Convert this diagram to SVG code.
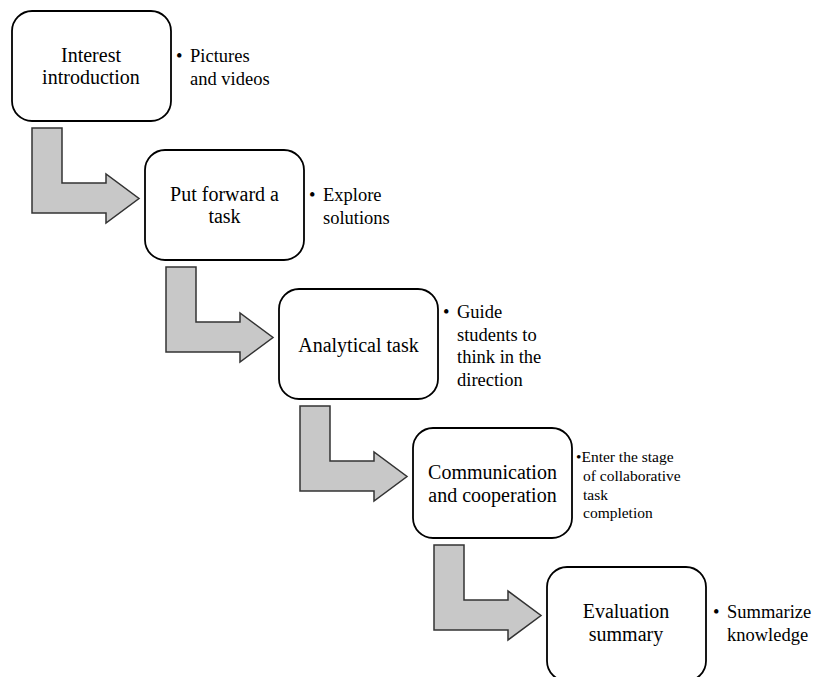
<svg xmlns="http://www.w3.org/2000/svg" width="813" height="677" viewBox="0 0 813 677">
<style>
.box{fill:#fff;stroke:#000;stroke-width:1.8}
.arr{fill:#c8c8c8;stroke:#333;stroke-width:1.5;stroke-linejoin:miter}
text{font-family:'Liberation Serif','Times New Roman',serif;fill:#000}
.t{font-size:20px;text-anchor:middle}
.s{font-size:18.5px}
.s2{font-size:15.5px}
</style>
<rect width="813" height="677" fill="#fff"/>
<defs>
<polygon id="larrow" class="arr" points="32,128 62,128 62,183 106,183 106,174 139,198.5 106,223 106,213 32,213"/>
</defs>
<g id="connectors">
<use href="#larrow"/>
<use href="#larrow" transform="translate(134,139)"/>
<use href="#larrow" transform="translate(268,278)"/>
<use href="#larrow" transform="translate(402,417)"/>
</g>
<g id="node1">
<rect class="box" x="12" y="11" width="159" height="110" rx="20"/>
<text class="t" x="91" y="61.5">Interest</text>
<text class="t" x="91" y="84">introduction</text>
<text class="s" x="176" y="62">•</text>
<text class="s" x="190" y="62">Pictures</text>
<text class="s" x="190" y="84.5">and videos</text>
</g>
<g id="node2">
<rect class="box" x="145" y="150" width="159" height="110" rx="20"/>
<text class="t" x="224.5" y="200.5">Put forward a</text>
<text class="t" x="224.5" y="223">task</text>
<text class="s" x="309" y="201">•</text>
<text class="s" x="323" y="201">Explore</text>
<text class="s" x="323" y="223.5">solutions</text>
</g>
<g id="node3">
<rect class="box" x="279" y="289" width="159" height="110" rx="20"/>
<text class="t" x="358.5" y="352">Analytical task</text>
<text class="s" x="443" y="318">•</text>
<text class="s" x="457" y="318">Guide</text>
<text class="s" x="457" y="340.5">students to</text>
<text class="s" x="457" y="363">think in the</text>
<text class="s" x="457" y="385.5">direction</text>
</g>
<g id="node4">
<rect class="box" x="413" y="428" width="159" height="110" rx="20"/>
<text class="t" x="492.5" y="479">Communication</text>
<text class="t" x="492.5" y="502">and cooperation</text>
<text class="s2" x="576" y="462">•Enter the stage</text>
<text class="s2" x="583" y="481">of collaborative</text>
<text class="s2" x="583" y="499.5">task</text>
<text class="s2" x="583" y="518">completion</text>
</g>
<g id="node5">
<rect class="box" x="547" y="567" width="159" height="114" rx="20"/>
<text class="t" x="626" y="618">Evaluation</text>
<text class="t" x="626" y="641">summary</text>
<text class="s" x="713" y="618">•</text>
<text class="s" x="727" y="618">Summarize</text>
<text class="s" x="727" y="641">knowledge</text>
</g>
</svg>
